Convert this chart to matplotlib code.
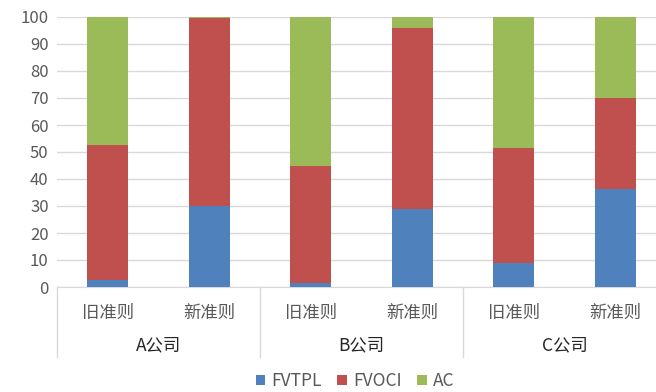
import numpy as np
import matplotlib.pyplot as plt
from matplotlib import transforms

plt.rcParams['font.family'] = ['Noto Sans CJK SC', 'DejaVu Sans']

# share of each measurement category (%), per company and standard
companies = ['A公司', 'B公司', 'C公司']
standards = ['旧准则', '新准则']
fvtpl = [2.6, 30.0, 1.6, 28.8, 8.9, 36.3]
fvoci = [50.0, 69.7, 43.3, 67.1, 42.7, 33.7]
ac = [47.4, 0.3, 55.1, 4.1, 48.4, 30.0]
series_names = ['FVTPL', 'FVOCI', 'AC']
colors = ['#4F81BD', '#C0504D', '#9BBB59']
text_col = '#595959'

fig = plt.figure(figsize=(6.56, 3.92), dpi=100)
ax = fig.add_axes([57 / 656, 105 / 392, 599 / 656, 270 / 392])

x = np.arange(len(fvtpl))
bottom = np.zeros(len(x))
handles = []
for vals, name, c in zip([fvtpl, fvoci, ac], series_names, colors):
    h = ax.bar(x, vals, width=0.4, bottom=bottom, color=c, label=name, zorder=3)
    handles.append(h)
    bottom += np.array(vals)

ax.set_ylim(0, 100)
ax.set_yticks(range(0, 101, 10))
ax.set_xlim(-0.5, -0.5 + 599 / 101.5)
ax.yaxis.grid(True, color='#D9D9D9', linewidth=1, zorder=0)
for s in ['top', 'right', 'left']:
    ax.spines[s].set_visible(False)
ax.spines['bottom'].set_color('#D9D9D9')
ax.tick_params(axis='y', length=0, labelsize=12, colors=text_col, pad=6)
ax.tick_params(axis='x', length=0, labelbottom=False)

# two-level category axis: standard labels, then company labels with dividers
trans = transforms.blended_transform_factory(ax.transData, ax.transAxes)
for i in x:
    ax.text(i, -0.095, standards[i % 2], transform=trans, ha='center', va='center',
            fontsize=12.5, color=text_col)
for j, comp in enumerate(companies):
    ax.text(2 * j + 0.5, -0.215, comp, transform=trans, ha='center', va='center',
            fontsize=12.5, color='#262626')
for b in [-0.5, 1.5, 3.5, 5.5]:
    ax.plot([b, b], [0, -0.26], transform=trans, color='#D9D9D9', lw=1, clip_on=False)

fig.legend(handles=handles, labels=series_names, loc='center', bbox_to_anchor=(355 / 656, 11 / 392),
           ncol=3, frameon=False, fontsize=12.5, handlelength=0.55, handleheight=0.55,
           handletextpad=0.35, columnspacing=0.9, labelcolor=text_col)

fig.savefig('out.png', dpi=100)
